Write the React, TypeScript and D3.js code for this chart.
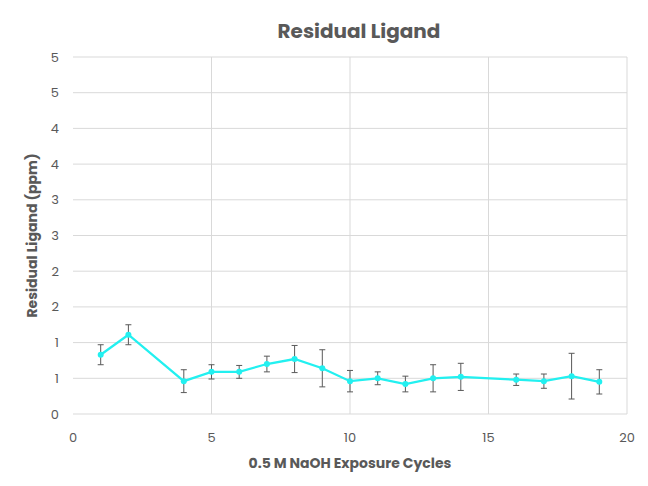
import React from "react";
import * as d3 from "d3";

const cycles = [1, 2, 4, 5, 6, 7, 8, 9, 10, 11, 12, 13, 14, 16, 17, 18, 19];
const values = [0.83, 1.11, 0.46, 0.59, 0.59, 0.7, 0.77, 0.64, 0.46, 0.5, 0.42, 0.5, 0.52, 0.48, 0.46, 0.53, 0.45];
const errors = [0.14, 0.14, 0.16, 0.1, 0.09, 0.11, 0.19, 0.26, 0.15, 0.09, 0.11, 0.19, 0.19, 0.08, 0.1, 0.32, 0.17];
const xTicks = [0, 5, 10, 15, 20];
const yTicks = [0, 0.5, 1, 1.5, 2, 2.5, 3, 3.5, 4, 4.5, 5];

export default function App() {
  const W = 648, H = 486;
  const x = d3.scaleLinear().domain([0, 20]).range([73, 627]);
  const y = d3.scaleLinear().domain([0, 5]).range([414, 57]);
  const line = d3.line<number>().x((_, i) => x(cycles[i])).y((v) => y(v));
  const font = "Poppins, Inter, 'Open Sans', sans-serif";
  const fmt = (v: number) => String(Math.round(v + 1e-9));
  return (
    <svg width={W} height={H} style={{ position: "absolute", left: 0, top: 0, background: "#fff" }} fontFamily={font}>
      <rect width={W} height={H} fill="#fff" />
      {yTicks.map((t) => (
        <g key={t}>
          <line x1={x(0)} x2={x(20)} y1={y(t)} y2={y(t)} stroke="#d9d9d9" />
          <text x={x(0) - 14} y={y(t)} dy="0.35em" textAnchor="end" fontSize={13} fill="#595959">{fmt(t)}</text>
        </g>
      ))}
      {xTicks.map((t) => (
        <g key={t}>
          {t > 0 && <line x1={x(t)} x2={x(t)} y1={y(0)} y2={y(5)} stroke="#d9d9d9" />}
          <text x={x(t)} y={y(0) + 28} textAnchor="middle" fontSize={13} fill="#595959">{t}</text>
        </g>
      ))}
      {cycles.map((c, i) => (
        <g key={c} stroke="#595959" strokeWidth={1}>
          <line x1={x(c)} x2={x(c)} y1={y(values[i] + errors[i])} y2={y(values[i] - errors[i])} />
          <line x1={x(c) - 3} x2={x(c) + 3} y1={y(values[i] + errors[i])} y2={y(values[i] + errors[i])} />
          <line x1={x(c) - 3} x2={x(c) + 3} y1={y(values[i] - errors[i])} y2={y(values[i] - errors[i])} />
        </g>
      ))}
      <path d={line(values) || ""} fill="none" stroke="#22f0f0" strokeWidth={2.25} />
      {cycles.map((c, i) => (
        <circle key={c} cx={x(c)} cy={y(values[i])} r={3} fill="#22f0f0" />
      ))}
      <text x={359} y={38} textAnchor="middle" fontSize={20} fontWeight={700} fill="#595959">Residual Ligand</text>
      <text x={350} y={468} textAnchor="middle" fontSize={14} fontWeight={700} fill="#595959">0.5 M NaOH Exposure Cycles</text>
      <text transform={`translate(37,${y(2.5)}) rotate(-90)`} textAnchor="middle" fontSize={14} fontWeight={700} fill="#595959">Residual Ligand (ppm)</text>
    </svg>
  );
}
